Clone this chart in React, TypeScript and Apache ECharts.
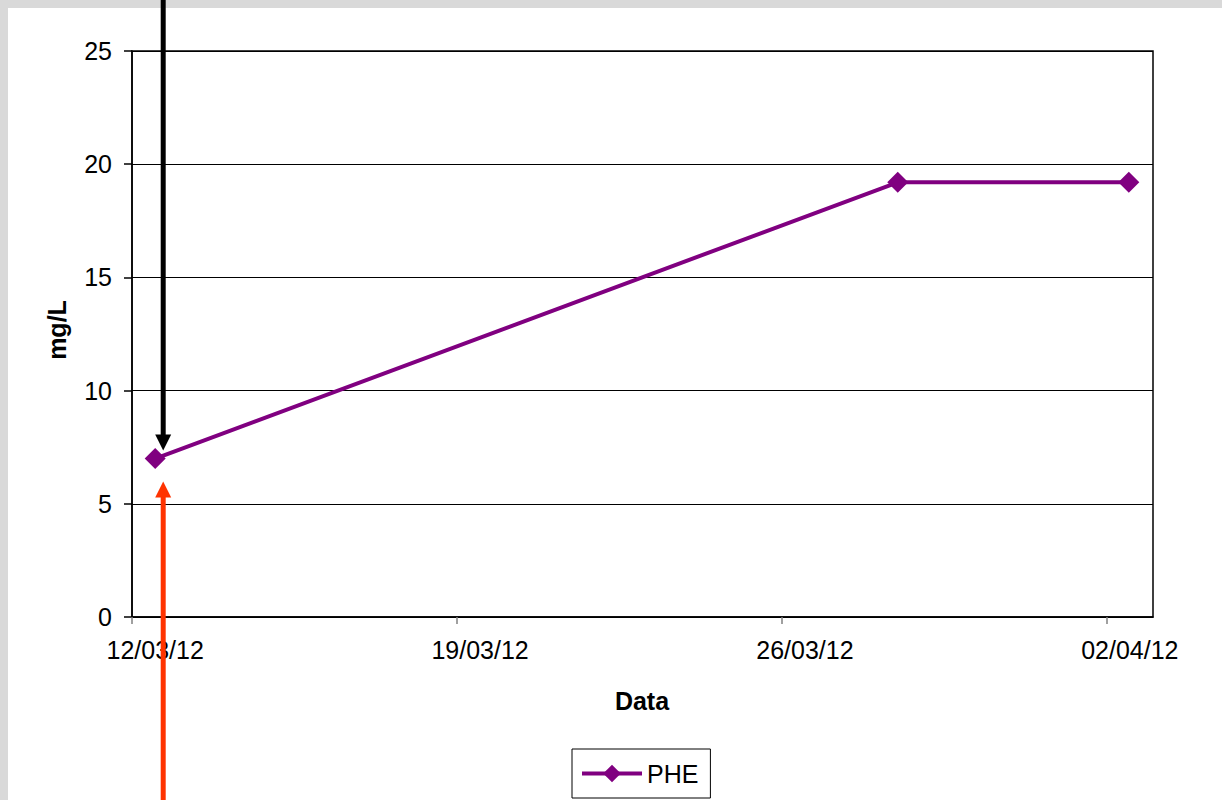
import React, { useEffect, useRef } from "react";
import * as echarts from "echarts";

const START = Date.UTC(2012, 2, 12);
const DAY = 86400000;
const sampleDates = ["2012-03-12T12:00:00Z", "2012-03-28T12:00:00Z", "2012-04-02T11:30:00Z"];
const pheValues = [7.0, 19.2, 19.2];
const tickDays = [0, 7, 14, 21];
const labelDays = [0.5, 7.5, 14.5, 21.5];
const yTicks = { min: 0, max: 25, interval: 5 };
const seriesName = "PHE";
const xTitle = "Data";
const yTitle = "mg/L";

const FONT = "'Liberation Sans', Arial, sans-serif";

function fmt(v: number): string {
  const d = new Date(START + Math.floor(v) * DAY);
  const p = (n: number) => (n < 10 ? "0" + n : "" + n);
  return p(d.getUTCDate()) + "/" + p(d.getUTCMonth() + 1) + "/" + p(d.getUTCFullYear() % 100);
}

export default function App() {
  const ref = useRef<HTMLDivElement>(null);
  useEffect(() => {
    if (!ref.current) return;
    const chart = echarts.init(ref.current, null, { renderer: "svg" });
    const data = sampleDates.map((d, i) => [(Date.parse(d) - START) / DAY, pheValues[i]]);
    chart.setOption({
      animation: false,
      backgroundColor: "#ffffff",
      textStyle: { fontFamily: FONT },
      grid: {
        left: 132,
        top: 51,
        right: 69,
        bottom: 183,
        show: true,
        borderColor: "#000",
        borderWidth: 1.5,
        backgroundColor: "transparent",
      },
      xAxis: {
        type: "value",
        min: 0,
        max: 22,
        interval: 7,
        axisLine: { show: true, lineStyle: { color: "#000", width: 1.5 } },
        axisTick: { show: true, length: 7, lineStyle: { color: "#808080", width: 1.5 }, customValues: tickDays },
        axisLabel: {
          customValues: labelDays,
          formatter: (v: number) => fmt(v),
          color: "#000",
          fontSize: 25,
          fontFamily: FONT,
          margin: 20,
        },
        splitLine: { show: false },
      },
      yAxis: {
        type: "value",
        min: yTicks.min,
        max: yTicks.max,
        interval: yTicks.interval,
        axisLine: { show: true, lineStyle: { color: "#000", width: 1.5 } },
        axisTick: { show: true, length: 8, lineStyle: { color: "#000", width: 1.5 } },
        axisLabel: { color: "#000", fontSize: 25, fontFamily: FONT, margin: 20 },
        splitLine: { show: true, lineStyle: { color: "#000", width: 1 } },
      },
      legend: {
        data: [seriesName],
        left: 572,
        top: 749,
        orient: "horizontal",
        borderColor: "#000",
        borderWidth: 1,
        padding: [12, 12, 12, 8],
        itemWidth: 60,
        itemHeight: 22,
        itemGap: 5,
        lineStyle: { width: 4 },
        textStyle: { color: "#000", fontSize: 25, fontFamily: FONT },
      },
      series: [
        {
          name: seriesName,
          type: "line",
          data,
          symbol: "diamond",
          symbolSize: 21,
          lineStyle: { color: "#800080", width: 4 },
          itemStyle: { color: "#800080" },
          z: 3,
        },
      ],
    });
    const pt = chart.convertToPixel({ seriesIndex: 0 }, data[0] as any) as number[];
    const ax = pt[0] + 8;
    const tipB = pt[1] - 8;
    const tipR = pt[1] + 23;
    chart.setOption({
      graphic: [
        { type: "rect", shape: { x: 0, y: 0, width: 1222, height: 8 }, style: { fill: "#d9d9d9" }, z: 100 },
        { type: "rect", shape: { x: 0, y: 0, width: 8, height: 800 }, style: { fill: "#d9d9d9" }, z: 100 },
        { type: "text", x: 57, y: 330, rotation: Math.PI / 2, style: { text: yTitle, font: "bold 25px " + FONT, fill: "#000", align: "center", verticalAlign: "middle" }, z: 100 },
        { type: "text", x: 642, y: 701, style: { text: xTitle, font: "bold 25px " + FONT, fill: "#000", align: "center", verticalAlign: "middle" }, z: 100 },
        { type: "line", shape: { x1: ax, y1: 0, x2: ax, y2: tipB - 14 }, style: { stroke: "#000", lineWidth: 5 }, z: 101 },
        { type: "polygon", shape: { points: [[ax - 8, tipB - 16], [ax + 8, tipB - 16], [ax, tipB]] }, style: { fill: "#000" }, z: 101 },
        { type: "line", shape: { x1: ax, y1: 800, x2: ax, y2: tipR + 14 }, style: { stroke: "#ff3300", lineWidth: 5 }, z: 101 },
        { type: "polygon", shape: { points: [[ax - 8, tipR + 16], [ax + 8, tipR + 16], [ax, tipR]] }, style: { fill: "#ff3300" }, z: 101 },
      ],
    });
    return () => chart.dispose();
  }, []);
  return <div ref={ref} style={{ position: "absolute", left: 0, top: 0, width: 1222, height: 800 }} />;
}
